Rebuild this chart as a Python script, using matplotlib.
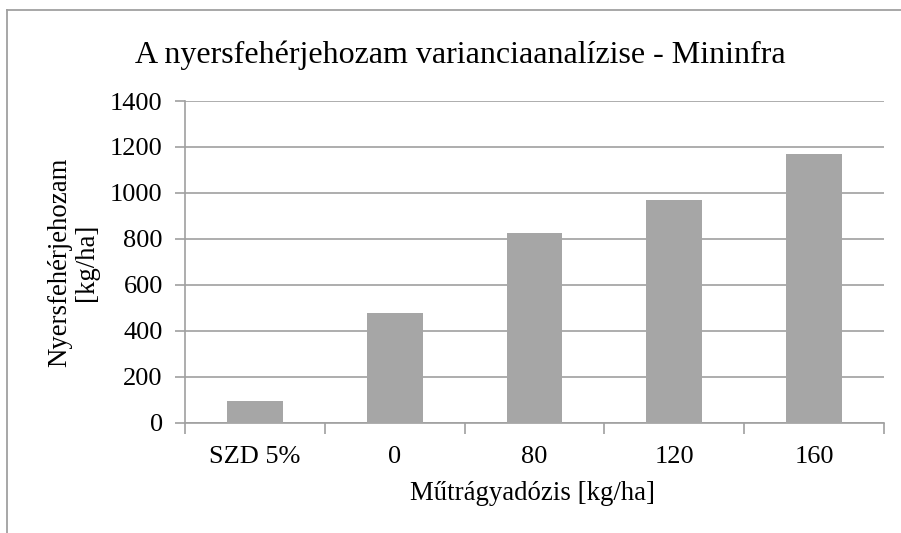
import numpy as np
import matplotlib
matplotlib.use('Agg')
import matplotlib.pyplot as plt
from matplotlib.lines import Line2D

categories = ['SZD 5%', '0', '80', '120', '160']
values = [93, 477, 824, 969, 1170]
yticks = [0, 200, 400, 600, 800, 1000, 1200, 1400]

plt.rcParams['font.family'] = ['Liberation Serif', 'DejaVu Serif']

W, H = 901, 533
fig = plt.figure(figsize=(W / 100, H / 100), dpi=100)
ax = fig.add_axes([185 / W, 1 - 422.7 / H, (884 - 185) / W, (422.7 - 101) / H])

grey = '#a6a6a6'
line_grey = '#a0a0a0'

x = np.arange(len(categories))
ax.bar(x, values, width=0.4, color=grey, zorder=3)

ax.set_xlim(-0.5, len(categories) - 0.5)
ax.set_ylim(0, 1400)
ax.set_yticks(yticks)
ax.set_yticklabels([str(v) for v in yticks], fontsize=19)
ax.yaxis.grid(True, color=line_grey, linewidth=1.2)
ax.set_axisbelow(True)

# category labels between the boundary ticks
ax.set_xticks(np.arange(len(categories) + 1) - 0.5)
ax.set_xticklabels([])
ax.set_xticks(x, minor=True)
ax.set_xticklabels(categories, minor=True, fontsize=19)
ax.tick_params(axis='x', which='minor', length=0, pad=17)
ax.tick_params(axis='x', which='major', length=8, color=line_grey, width=1.2)
ax.tick_params(axis='y', length=7, color=line_grey, width=1.2, pad=9)

for s in ['top', 'right']:
    ax.spines[s].set_visible(False)
for s in ['left', 'bottom']:
    ax.spines[s].set_color(line_grey)
    ax.spines[s].set_linewidth(1.2)

fig.text(460 / W, 1 - 55 / H, 'A nyersfehérjehozam varianciaanalízise - Mininfra',
         fontsize=23, ha='center', va='center')
fig.text(532 / W, 1 - 493 / H, 'Műtrágyadózis [kg/ha]', fontsize=19.3,
         ha='center', va='center')
fig.text(73 / W, 1 - 262 / H, 'Nyersfehérjehozam\n[kg/ha]', fontsize=19.3,
         ha='center', va='center', rotation=90, multialignment='center',
         linespacing=1.1)

# outer chart frame (only left and top edges visible)
fig.add_artist(Line2D([7 / W, 7 / W], [0, 1 - 10 / H], color=line_grey,
                      linewidth=1.3, transform=fig.transFigure))
fig.add_artist(Line2D([7 / W, 1], [1 - 10 / H, 1 - 10 / H], color=line_grey,
                      linewidth=1.3, transform=fig.transFigure))

fig.savefig('out.png', dpi=100)
